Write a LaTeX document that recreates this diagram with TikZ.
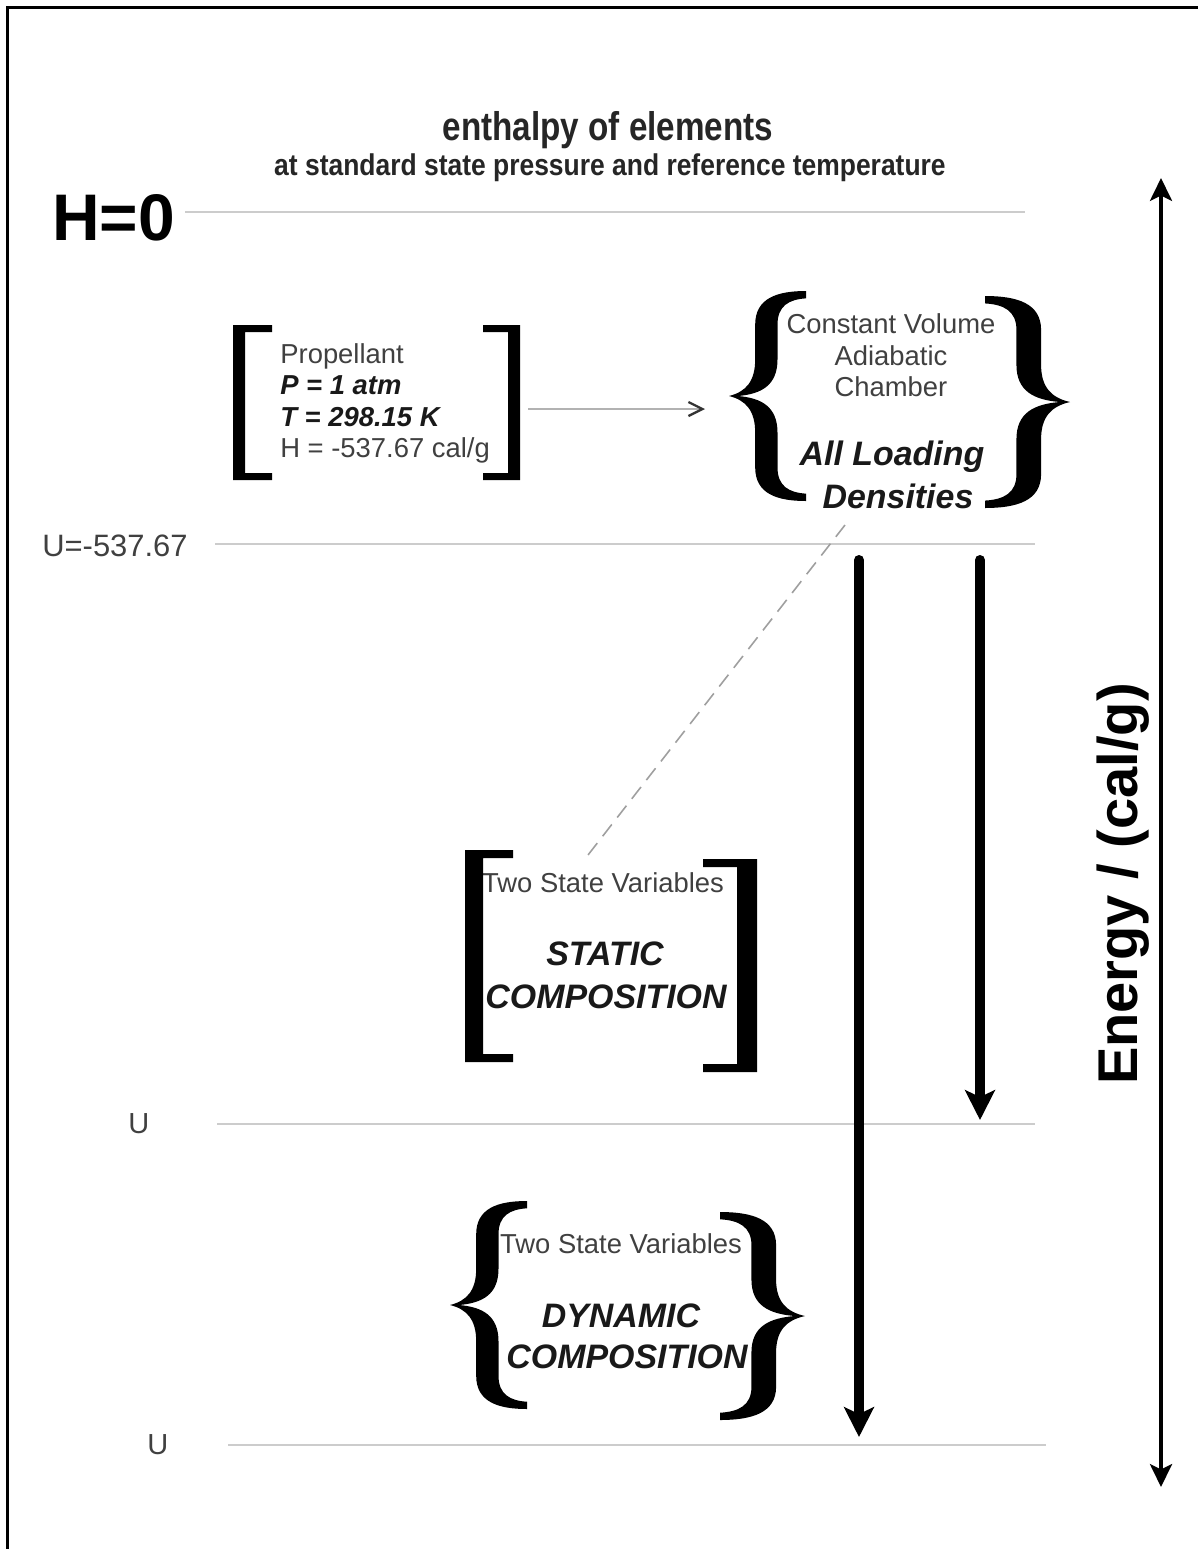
\documentclass[tikz,border=0pt]{standalone}
\usepackage{fontspec}
\setmainfont{Liberation Sans}
\newfontfamily\titlefont[FakeStretch=0.83]{Liberation Sans}
\newfontfamily\subfont[FakeStretch=0.88]{Liberation Sans}
\usepackage{tikz}
\usetikzlibrary{arrows.meta}

\tikzset{
  lbrace/.pic={
    \fill (0,0) .. controls (0.22,-0.04) and (0.34,-0.14) .. (0.34,-0.35)
      -- (0.34,-0.68) .. controls (0.34,-0.93) and (0.62,-1) .. (1,-1)
      -- (1,-0.93) .. controls (0.78,-0.92) and (0.63,-0.86) .. (0.63,-0.68)
      -- (0.63,-0.35) .. controls (0.63,-0.1) and (0.42,-0.02) .. (0.12,0)
      .. controls (0.42,0.02) and (0.63,0.1) .. (0.63,0.35)
      -- (0.63,0.68) .. controls (0.63,0.86) and (0.78,0.92) .. (1,0.93)
      -- (1,1) .. controls (0.62,1) and (0.34,0.93) .. (0.34,0.68)
      -- (0.34,0.35) .. controls (0.34,0.14) and (0.22,0.04) .. (0,0) -- cycle;
  },
  level/.style={gray!40, line width=1.1pt},
  smalltxt/.style={font=\fontsize{15.6}{18}\selectfont, text=black!75, inner sep=0pt},
  boldtxt/.style={font=\fontsize{15.6}{18}\selectfont\bfseries\itshape, text=black!90, inner sep=0pt},
  bigtxt/.style={font=\fontsize{19.3}{23}\selectfont\bfseries\itshape, text=black!90, inner sep=0pt, anchor=base},
  downarrow/.style={line width=5.7pt, line cap=round, -{Stealth[length=17pt,width=17pt,inset=4pt]}},
}

\begin{document}
\begin{tikzpicture}[x=0.02cm,y=-0.02cm]
\fill[white] (0,0) rectangle (1198,1549);
\useasboundingbox (0,0) rectangle (1198,1549);

% Define coordinates for easier positioning
\coordinate (propR) at (528,409);
\coordinate (chamL) at (705,409);
\coordinate (chamB) at (845,525);
\coordinate (statT) at (588,855);
\coordinate (A1) at (859,560);
\coordinate (A1end) at (859,1437);
\coordinate (A2) at (980,560);
\coordinate (A2end) at (980,1120);
\coordinate (Etop) at (1161,178);
\coordinate (Ebot) at (1161,1487);

% Frame on top and left
\draw[line width=1.7pt] (7.5,1549) -- (7.5,7.5) -- (1198,7.5);

% Energy levels
\draw[level] (185,212) -- (1025,212);
\draw[level] (215,544) -- (1035,544);
\draw[level] (217,1124) -- (1035,1124);
\draw[level] (228,1445) -- (1046,1445);

% Labels of the levels
\node[font=\fontsize{37.5}{40}\selectfont\bfseries, inner sep=0pt, anchor=base west] (hzero) at (52,240) {H=0};
\node[smalltxt, font=\fontsize{17.6}{20}\selectfont, anchor=base west] (uprop) at (42,556) {U=-537.67};
\node[smalltxt, font=\fontsize{16.5}{19}\selectfont, anchor=base west] (ustat) at (128,1133) {U};
\node[smalltxt, font=\fontsize{16.5}{19}\selectfont, anchor=base west] (udyn) at (147,1454) {U};

% Title
\node[font=\titlefont\fontsize{22.8}{26}\selectfont\bfseries, text=black!85, inner sep=0pt, anchor=base] (title) at (608,140) {enthalpy of elements};
\node[font=\subfont\fontsize{17.1}{20}\selectfont\bfseries, text=black!85, inner sep=0pt, anchor=base] (subtitle) at (610,175) {at standard state pressure and reference temperature};

% Propellant block
\node[smalltxt, anchor=base west] (prop) at (280,363) {Propellant};
\node[boldtxt, anchor=base west] (pres) at (280,394) {P = 1 atm};
\node[boldtxt, anchor=base west] (temp) at (280,426) {T = 298.15 K};
\node[smalltxt, anchor=base west] (henth) at (280,457) {H = -537.67 cal/g};
\fill (272,325) -- (233,325) -- (233,480) -- (272,480) -- (272,473) -- (245,473) -- (245,332) -- (272,332) -- cycle;
\fill (483,325) -- (520,325) -- (520,480) -- (483,480) -- (483,473) -- (508,473) -- (508,332) -- (483,332) -- cycle;

% Chamber block
\node[smalltxt, anchor=base] (cvol) at (891,333) {Constant Volume};
\node[smalltxt, anchor=base] (adia) at (891,365) {Adiabatic};
\node[smalltxt, anchor=base] (chamber) at (891,396) {Chamber};
\node[bigtxt] (allload) at (892,465) {All Loading};
\node[bigtxt] (dens) at (898,508) {Densities};
\pic[xscale=77,yscale=105] at (729,396) {lbrace};
\pic[xscale=-85,yscale=106] at (1070,402) {lbrace};

% Static composition
\node[smalltxt, anchor=base] (twostat) at (603,892) {Two State Variables};
\node[bigtxt] (static) at (605,965) {STATIC};
\node[bigtxt] (compstat) at (606,1008) {COMPOSITION};
\fill (513,850) -- (465,850) -- (465,1062) -- (513,1062) -- (513,1054) -- (483,1054) -- (483,858) -- (513,858) -- cycle;
\fill (703,859) -- (757,859) -- (757,1072) -- (703,1072) -- (703,1064) -- (737,1064) -- (737,867) -- (703,867) -- cycle;

% Dynamic composition
\node[smalltxt, anchor=base] (twodyn) at (621,1253) {Two State Variables};
\node[bigtxt] (dynamic) at (621,1327) {DYNAMIC};
\node[bigtxt] (compdyn) at (627,1368) {COMPOSITION};
\pic[xscale=77,yscale=104] at (450,1305) {lbrace};
\pic[xscale=-85,yscale=104] at (805,1316) {lbrace};

% Connectors
\draw[gray!60, line width=0.85pt, -{Straight Barb[length=8pt,width=8pt,line width=1.3pt,color=black!80]}] (propR) -- (chamL);
\draw[gray!75, line width=0.9pt, dash pattern=on 8.5pt off 5pt] (chamB) -- (statT);
\draw[downarrow] (A1) -- (A1end);
\draw[downarrow] (A2) -- (A2end);

% Energy axis
\draw[line width=2.3pt, {Stealth[length=13pt,width=12.5pt,inset=3pt]}-{Stealth[length=13pt,width=12.5pt,inset=3pt]}] (Etop) -- (Ebot);
\node[font=\fontsize{31.9}{34}\selectfont\bfseries, inner sep=0pt, rotate=90, anchor=base] (energy) at (1137,884) {Energy / (cal/g)};

\end{tikzpicture}
\end{document}
